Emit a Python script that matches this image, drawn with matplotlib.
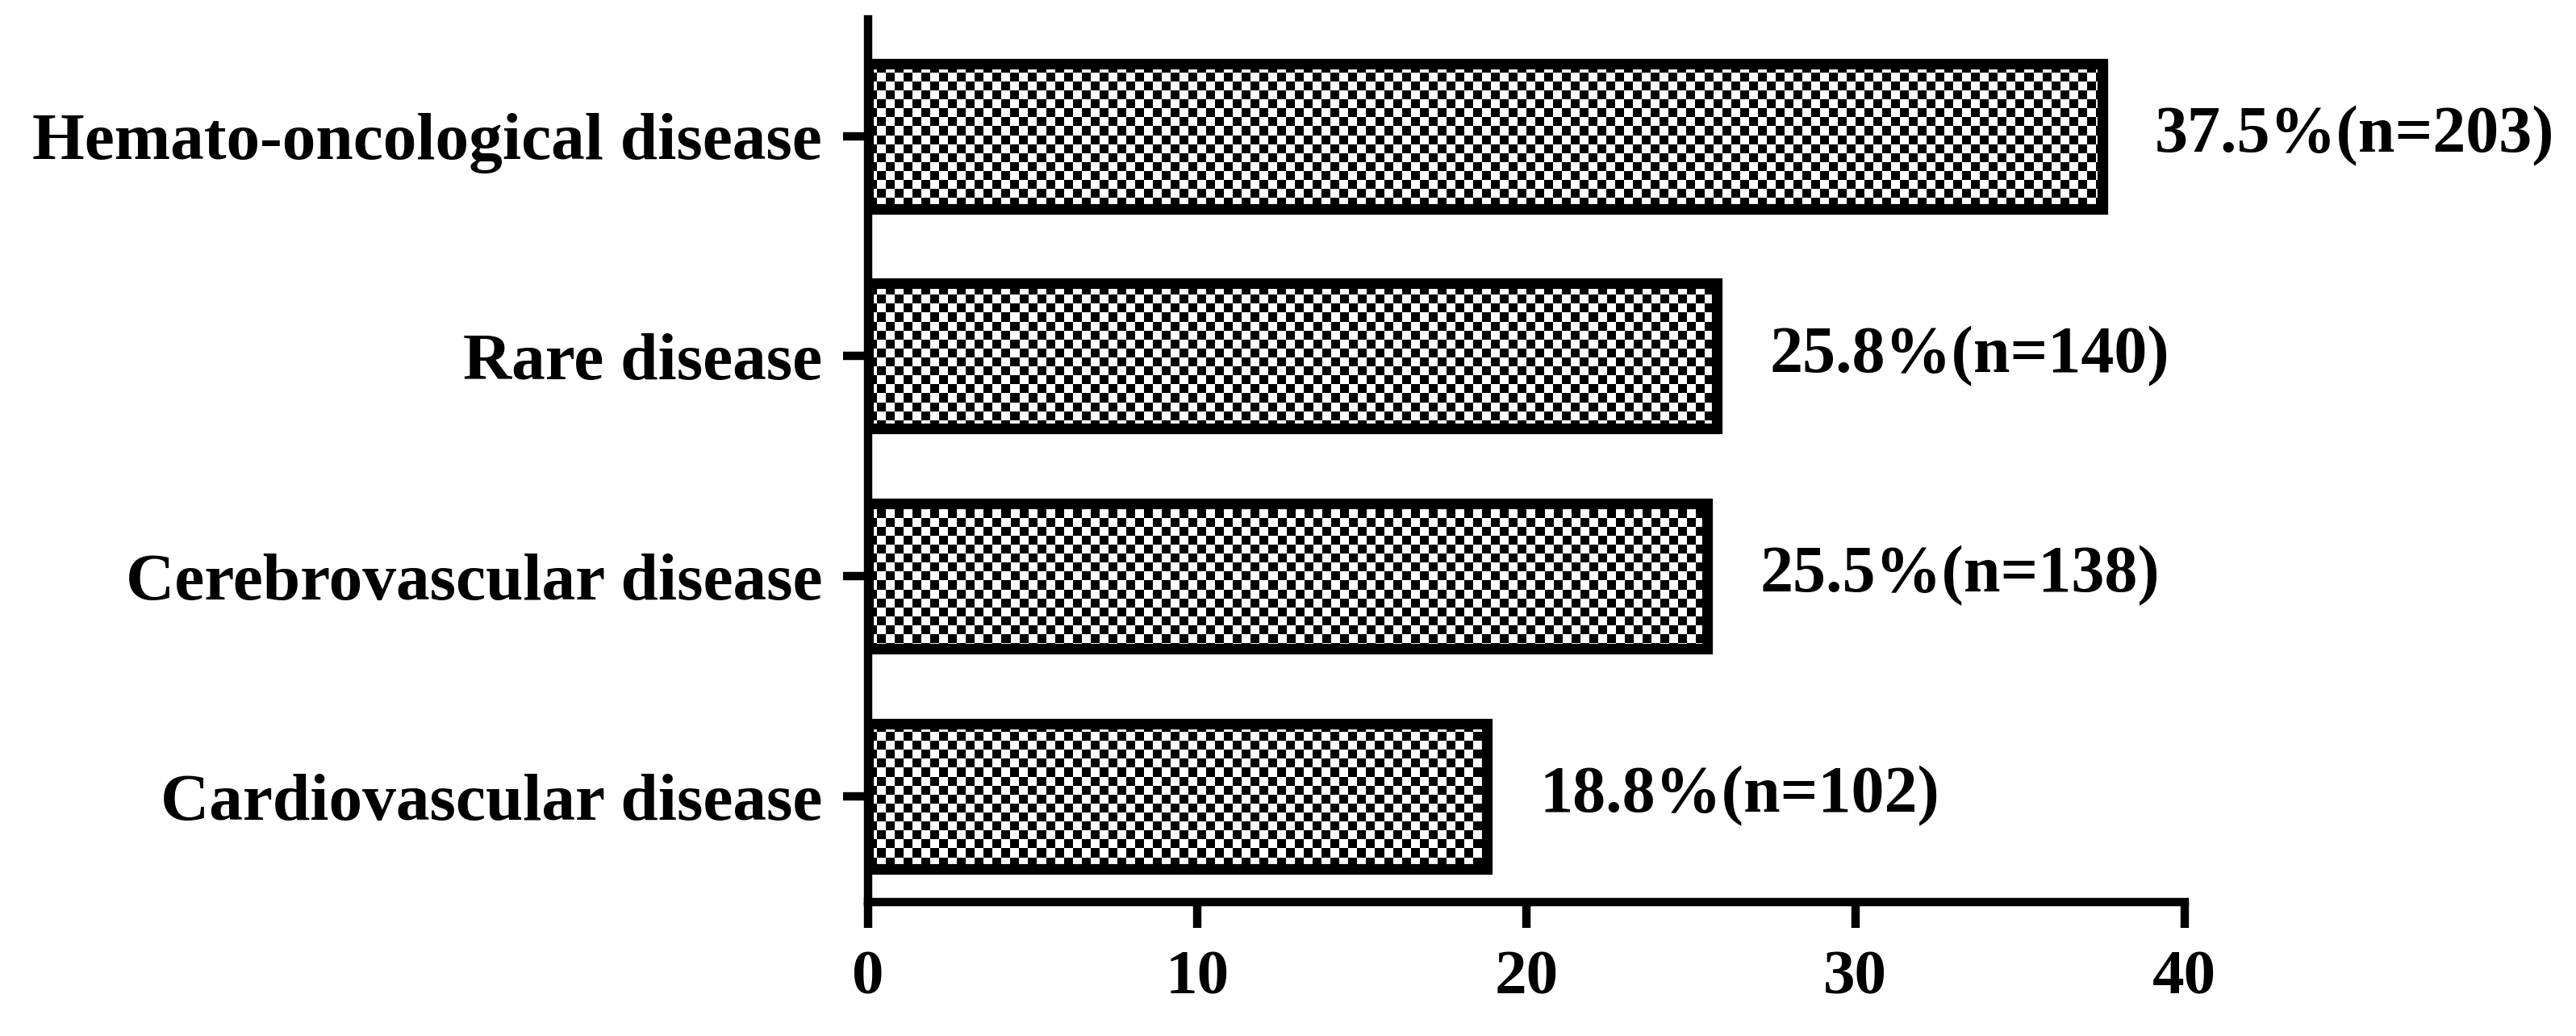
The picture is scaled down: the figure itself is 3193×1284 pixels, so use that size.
import matplotlib.pyplot as plt
import numpy as np

categories = ["Cardiovascular disease", "Cerebrovascular disease", "Rare disease", "Hemato-oncological disease"]
percent = [18.8, 25.5, 25.8, 37.5]
counts = [102, 138, 140, 203]
xticks = [0, 10, 20, 30, 40]

plt.rcParams['font.family'] = ['Liberation Serif', 'DejaVu Serif']
plt.rcParams['font.weight'] = 'bold'

fig = plt.figure(figsize=(31.93, 12.84), dpi=100)
ax = fig.add_axes([0.337, 0.1293, 0.511, 0.852])

xlim = (0, 40)
ylim = (-0.48, 3.53)

# checkerboard texture, about 11 px cells
ny, nx = 99, 148
yy, xx = np.indices((ny, nx))
checker = ((yy + xx) % 2).astype(float)

ypos = np.arange(len(categories))
bars = ax.barh(ypos, percent, height=0.66, facecolor='none', edgecolor='black',
               linewidth=9.5, zorder=3)
for b in bars:
    im = ax.imshow(checker, cmap='gray', vmin=0, vmax=1, interpolation='nearest',
                   extent=(xlim[0], xlim[1], ylim[0], ylim[1]), aspect='auto', zorder=2)
    im.set_clip_path(b)

for y, p, n in zip(ypos, percent, counts):
    ax.text(p + 1.6, y, "%.1f%%(n=%d)" % (p, n), ha='left', va='center',
            fontsize=59, fontweight='bold')

ax.set_xlim(xlim)
ax.set_ylim(ylim)
ax.set_xticks(xticks)
ax.set_xticklabels([str(t) for t in xticks], fontsize=57, fontweight='bold')
ax.set_yticks(ypos)
ax.set_yticklabels(categories, fontsize=60, fontweight='bold')

for s in ['top', 'right']:
    ax.spines[s].set_visible(False)
for s in ['left', 'bottom']:
    ax.spines[s].set_linewidth(7.5)
ax.tick_params(axis='x', length=23, width=7.5, pad=20)
ax.tick_params(axis='y', length=22, width=7.5, pad=19)

fig.savefig("out.png", dpi=100)
